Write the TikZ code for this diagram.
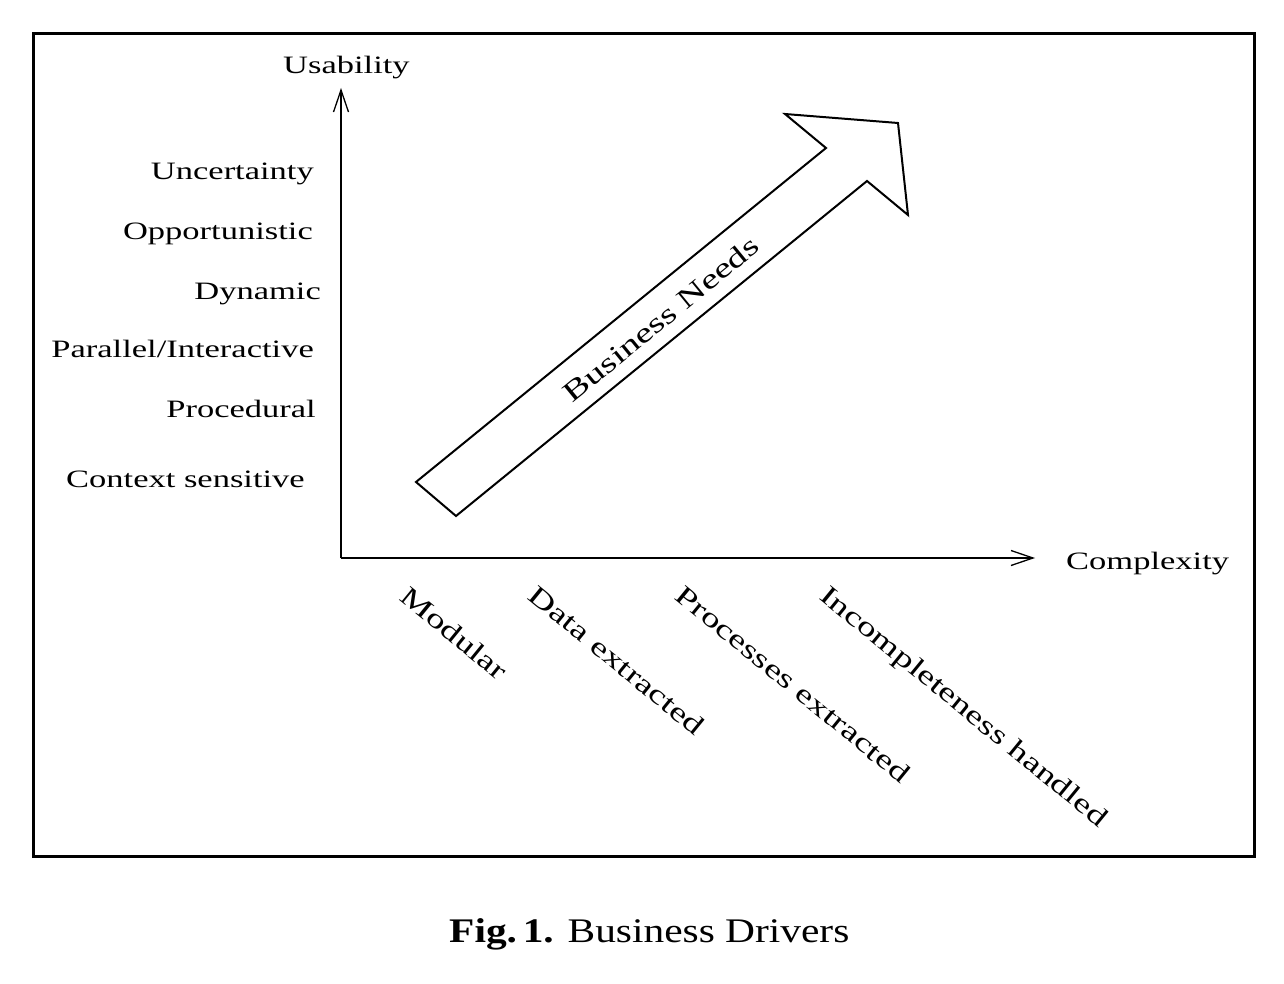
\documentclass[tikz,border=0pt]{standalone}
\usepackage{fontspec}
\setmainfont{Liberation Serif}
\newfontfamily\figfont{Liberation Serif}[FakeStretch=1.38]
\newfontfamily\capfont{Liberation Serif}[FakeStretch=1.2]
\usetikzlibrary{arrows.meta}
\begin{document}
\begin{tikzpicture}[x=1pt,y=-1pt,
  lbl/.style={inner sep=0pt,font=\figfont\fontsize{25}{30}\selectfont},
  rlbl/.style={inner sep=0pt,font=\figfont\fontsize{27.3}{32}\selectfont},
  axis/.style={line width=1.3pt,-{Straight Barb[length=22pt,width=15pt,line width=1.3pt]}},
  bigarrow/.style={line width=2pt,line join=miter}]
\useasboundingbox (0,0) rectangle (1284,984);
\draw[line width=3pt] (33,34) rectangle (1254,856);
% axes
\coordinate (O) at (341,558);
\coordinate (ytip) at (341,88);
\coordinate (xtip) at (1035,558);
\draw[axis] (O) -- (ytip);
\draw[axis] (O) -- (xtip);
% big arrow
\coordinate (t1) at (416,482);
\coordinate (t2) at (456,516);
\coordinate (i2) at (867,181);
\coordinate (h2) at (908,215);
\coordinate (tip) at (898,123);
\coordinate (h1) at (785,114);
\coordinate (i1) at (826,148);
\draw[bigarrow] (t1) -- (i1) -- (h1) -- (tip) -- (h2) -- (i2) -- (t2) -- cycle;
\node[rlbl,font=\figfont\fontsize{28}{32}\selectfont,rotate=39.3] (bn) at (661,319) {Business Needs};
% axis labels
\node[lbl,anchor=base west] (ua) at (283,74) {Usability};
\node[lbl,anchor=base west] (cx) at (1066,569) {Complexity};
% left labels
\node[lbl,anchor=base east] (l1) at (314,180) {Uncertainty};
\node[lbl,anchor=base east] (l2) at (313,240) {Opportunistic};
\node[lbl,anchor=base east] (l3) at (321,299) {Dynamic};
\node[lbl,anchor=base east] (l4) at (314,357) {Parallel/Interactive};
\node[lbl,anchor=base east] (l5) at (316,417) {Procedural};
\node[lbl,anchor=base east] (l6) at (305,487) {Context sensitive};
% bottom labels
\node[rlbl,anchor=base west,rotate=-39.3] (b1) at (398,599) {Modular};
\node[rlbl,anchor=base west,rotate=-39.3] (b2) at (526,598) {Data extracted};
\node[rlbl,anchor=base west,rotate=-39.3] (b3) at (673,598) {Processes extracted};
\node[rlbl,anchor=base west,rotate=-39.3] (b4) at (818,598) {Incompleteness handled};
% caption
\node[inner sep=0pt,anchor=base west,font=\capfont\fontsize{34.5}{40}\selectfont] (cap) at (449,942) {\textbf{Fig.\,1.} Business Drivers};
\end{tikzpicture}
\end{document}
